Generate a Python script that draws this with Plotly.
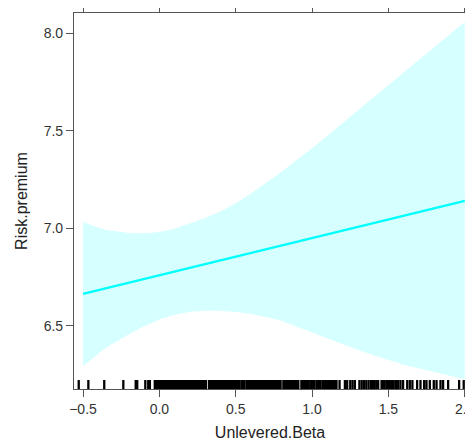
import plotly.graph_objects as go

# Effect estimate (straight line) and confidence band
fit_x = [-0.5, 2.0]
fit_y = [6.663, 7.140]

band_x = [-0.5, -0.42, -0.35, -0.2, -0.1, 0.0, 0.1, 0.2, 0.3, 0.4, 0.5, 0.6, 0.7, 0.8, 1.0, 1.2, 1.4, 1.6, 1.8, 2.0]
band_upper = [7.033, 7.008, 6.991, 6.975, 6.974, 6.980, 6.997, 7.024, 7.052, 7.085, 7.128, 7.178, 7.232, 7.29, 7.41, 7.54, 7.67, 7.80, 7.93, 8.058]
band_lower = [6.293, 6.343, 6.387, 6.456, 6.497, 6.532, 6.556, 6.571, 6.577, 6.576, 6.570, 6.560, 6.545, 6.525, 6.465, 6.405, 6.35, 6.30, 6.262, 6.225]

# Rug (observed Unlevered.Beta values)
rug_x = [
    -0.528, -0.465, -0.361, -0.236, -0.155, -0.145, -0.092, -0.073, -0.062,
    -0.030, -0.022, -0.014, -0.006, 0.002, 0.010, 0.018, 0.026, 0.034, 0.042,
    0.050, 0.058, 0.066, 0.074, 0.082, 0.090, 0.098, 0.106, 0.114, 0.122,
    0.130, 0.138, 0.146, 0.154, 0.162, 0.170, 0.178, 0.186, 0.194, 0.202,
    0.210, 0.218, 0.226, 0.234, 0.242, 0.250, 0.258, 0.266, 0.274, 0.282,
    0.290, 0.298, 0.306, 0.326, 0.334, 0.342, 0.350, 0.358, 0.366, 0.374,
    0.382, 0.390, 0.398, 0.406, 0.414, 0.422, 0.430, 0.438, 0.446, 0.454,
    0.462, 0.470, 0.478, 0.486, 0.494, 0.502, 0.510, 0.518, 0.526, 0.540,
    0.548, 0.556, 0.570, 0.578, 0.586, 0.594, 0.602, 0.610, 0.618, 0.626,
    0.634, 0.642, 0.650, 0.658, 0.666, 0.674, 0.682, 0.690, 0.698, 0.706,
    0.714, 0.722, 0.730, 0.738, 0.746, 0.754, 0.762, 0.770, 0.778, 0.786,
    0.794, 0.812, 0.820, 0.828, 0.836, 0.844, 0.850, 0.862, 0.870, 0.878,
    0.886, 0.894, 0.902, 0.910, 0.930, 0.938, 0.946, 0.954, 0.962, 0.970,
    0.978, 0.990, 1.000, 1.008, 1.016, 1.030, 1.040, 1.048, 1.056, 1.070,
    1.080, 1.090, 1.100, 1.110, 1.120, 1.130, 1.140, 1.150,
    1.160, 1.180, 1.215, 1.230, 1.250, 1.265, 1.280, 1.310, 1.325, 1.340,
    1.355, 1.370, 1.385, 1.395, 1.405, 1.420, 1.433, 1.455, 1.465, 1.476,
    1.491, 1.500, 1.509, 1.520, 1.531, 1.545, 1.553, 1.564, 1.579, 1.596,
    1.623, 1.640, 1.657, 1.688, 1.710, 1.734, 1.749, 1.771, 1.797, 1.815,
    1.841, 1.858, 1.891, 1.963, 1.993,
]

x_ticks = [-0.5, 0.0, 0.5, 1.0, 1.5, 2.0]
y_ticks = [6.5, 7.0, 7.5, 8.0]
x_range = [-0.559, 2.008]
y_range = [6.175, 8.104]
rug_height = 0.046

fig = go.Figure()

fig.add_trace(go.Scatter(
    x=band_x + band_x[::-1],
    y=band_upper + band_lower[::-1],
    fill="toself", fillcolor="#D6FFFF",
    line=dict(width=0),
    mode="lines", hoverinfo="skip", showlegend=False,
))

fig.add_trace(go.Scatter(
    x=fit_x, y=fit_y, mode="lines",
    line=dict(color="#00FFFF", width=2.2),
    showlegend=False,
))

rx, ry = [], []
for v in rug_x:
    rx += [v, v, None]
    ry += [y_range[0], y_range[0] + rug_height, None]
fig.add_trace(go.Scatter(
    x=rx, y=ry, mode="lines",
    line=dict(color="black", width=2.3),
    hoverinfo="skip", showlegend=False, cliponaxis=False,
))

tick_font = dict(family="Liberation Sans, Arial, sans-serif", size=14, color="#333333")
title_font = dict(family="Liberation Sans, Arial, sans-serif", size=16, color="#222222")

fig.update_layout(
    width=473, height=447,
    margin=dict(l=66, r=15, t=5, b=66),
    paper_bgcolor="white", plot_bgcolor="white",
    font=tick_font,
    xaxis=dict(
        range=x_range, tickvals=x_ticks,
        ticktext=["\u22120.5", "0.0", "0.5", "1.0", "1.5", "2.0"],
        showgrid=False, zeroline=False, automargin=False,
        ticklabeloverflow="allow",
        showline=True, linecolor="#555555", linewidth=1.2,
        mirror="ticks", ticks="outside", ticklen=7, tickcolor="#555555", tickwidth=1,
        title=dict(text="Unlevered.Beta", font=title_font, standoff=10),
        tickfont=tick_font,
    ),
    yaxis=dict(
        range=y_range, tickvals=y_ticks,
        ticktext=["6.5", "7.0", "7.5", "8.0"],
        showgrid=False, zeroline=False, automargin=False,
        ticklabeloverflow="allow",
        showline=True, linecolor="#555555", linewidth=1.2,
        ticks="outside", ticklen=7, tickcolor="#555555", tickwidth=1,
        title=dict(text="Risk.premium", font=title_font, standoff=12),
        tickfont=tick_font,
    ),
)

fig.write_html("out.html")
